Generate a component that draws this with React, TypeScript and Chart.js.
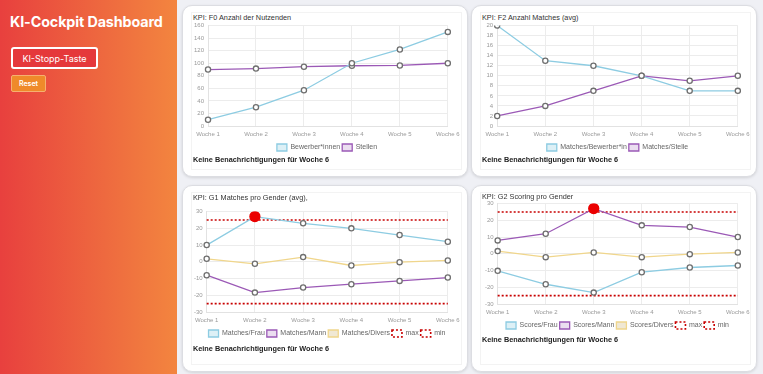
import React, { useEffect, useRef } from "react";
import { Chart, registerables } from "chart.js";

Chart.register(...registerables);

const weeks = ["Woche 1", "Woche 2", "Woche 3", "Woche 4", "Woche 5", "Woche 6"];

const f0Bewerber = [10, 30, 57, 100, 122, 150];
const f0Stellen = [90, 91.5, 94.5, 96, 96.5, 100];

const f2MatchesBewerber = [20, 13, 12, 10, 7, 7];
const f2MatchesStelle = [2, 4, 7, 10, 9, 10];

const g1Frau = [10, 27, 23, 20, 16, 12];
const g1Mann = [-8, -18.4, -15.4, -13.4, -11.4, -9.4];
const g1Divers = [1.8, -1.2, 2.8, -2.2, -0.2, 0.8];

const g2Frau = [-10.2, -18.2, -23.2, -11, -8.2, -7];
const g2Mann = [8, 12, 27, 17, 16, 10];
const g2Divers = [1.6, -2, 0.8, -2, -0.2, 0.8];

const maxLine = [25, 25, 25, 25, 25, 25];
const minLine = [-25, -25, -25, -25, -25, -25];
const maxLimit = 25;

const BLUE = "rgb(141, 204, 226)";
const BLUE_FILL = "rgba(141, 204, 226, 0.3)";
const PURPLE = "rgb(155, 89, 182)";
const PURPLE_FILL = "rgba(155, 89, 182, 0.2)";
const YELLOW = "rgb(240, 214, 140)";
const YELLOW_FILL = "rgba(225, 210, 170, 0.5)";
const RED = "rgb(200, 0, 0)";

const FONT = "'Liberation Sans', Arial, sans-serif";

function series(label: string, data: number[], color: string, fill: string, flag = false) {
  const hot = (c: any) => flag && c.raw > maxLimit;
  return {
    label,
    data,
    borderColor: color,
    backgroundColor: fill,
    borderWidth: 1.3,
    tension: 0,
    pointRadius: (c: any) => (hot(c) ? 5 : 2.6),
    pointHoverRadius: (c: any) => (hot(c) ? 5 : 2.6),
    pointBackgroundColor: (c: any) => (hot(c) ? "rgb(235, 0, 0)" : "#ffffff"),
    pointBorderColor: (c: any) => (hot(c) ? "rgb(235, 0, 0)" : "#6f6f6f"),
    pointBorderWidth: 1.3,
  };
}

function limit(label: string, data: number[]) {
  return {
    label,
    data,
    borderColor: RED,
    backgroundColor: "rgba(255,255,255,0)",
    borderWidth: 1.6,
    borderDash: [2, 2],
    pointRadius: 0,
    tension: 0,
  };
}

function makeOptions(min: number, max: number, step: number) {
  return {
    animation: false as const,
    responsive: false,
    maintainAspectRatio: false,
    layout: { padding: { top: 0, bottom: 0, left: 0, right: 0 } },
    plugins: {
      legend: {
        position: "bottom" as const,
        labels: {
          boxWidth: 10,
          boxHeight: 7,
          padding: 2,
          color: "#666",
          font: { family: FONT, size: 7 },
        },
      },
      tooltip: { enabled: false },
    },
    scales: {
      x: {
        grid: { color: "#ececec", drawTicks: false, tickLength: 0 },
        border: { color: "#e2e2e2" },
        ticks: { color: "#999", padding: 4.4, font: { family: FONT, size: 6 }, maxRotation: 0 },
      },
      y: {
        min,
        max,
        grid: { color: "#ececec", drawTicks: false, tickLength: 0 },
        border: { color: "#e2e2e2" },
        ticks: { color: "#999", padding: 4, stepSize: step, autoSkip: false, font: { family: FONT, size: 6 } },
      },
    },
  };
}

function LineCanvas({ datasets, min, max, step, width, height }: any) {
  const ref = useRef<HTMLCanvasElement | null>(null);
  useEffect(() => {
    if (!ref.current) return;
    const chart = new Chart(ref.current, {
      type: "line",
      data: { labels: weeks, datasets },
      options: makeOptions(min, max, step) as any,
    });
    return () => chart.destroy();
  }, []);
  return <canvas ref={ref} width={width} height={height} style={{ width, height, display: "block" }} />;
}

function Card({ left, top, width, height, title, titleY, canvasLeft, canvasTop, canvasW, canvasH, noteY, children }: any) {
  return (
    <div
      style={{
        position: "absolute",
        left,
        top,
        width,
        height,
        boxSizing: "border-box",
        background: "#fff",
        borderRadius: 10,
        border: "1px solid #dcdde2",
        boxShadow: "0 1px 3px rgba(0,0,0,0.12)",
      }}
    >
      <div
        style={{
          position: "absolute",
          left: 8,
          right: 5,
          top: 6,
          bottom: 6,
          border: "1px solid #f3f3f3",
        }}
      />
      <div
        style={{
          position: "absolute",
          left: 10,
          top: titleY - 5,
          fontFamily: FONT,
          fontSize: 7.3,
          color: "#333",
          lineHeight: "10px",
          whiteSpace: "nowrap",
        }}
      >
        {title}
      </div>
      <div style={{ position: "absolute", left: canvasLeft, top: canvasTop, width: canvasW, height: canvasH }}>
        {children}
      </div>
      <div
        style={{
          position: "absolute",
          left: 10,
          top: noteY - 5,
          fontFamily: FONT,
          fontSize: 7.3,
          fontWeight: "bold",
          color: "#222",
          lineHeight: "10px",
          whiteSpace: "nowrap",
        }}
      >
        Keine Benachrichtigungen für Woche 6
      </div>
    </div>
  );
}

export default function App() {
  useEffect(() => {
    document.body.style.margin = "0";
  }, []);
  const ch = 143;
  return (
    <div
      style={{
        position: "fixed",
        left: 0,
        top: 0,
        width: 763,
        height: 374,
        overflow: "hidden",
        background: "#eff0f5",
      }}
    >
      <div
        style={{
          position: "absolute",
          left: 0,
          top: 0,
          width: 177,
          height: 374,
          background: "linear-gradient(90deg, #e8403e 0%, #ee6a3f 60%, #f3853f 100%)",
        }}
      >
        <div
          style={{
            position: "absolute",
            left: 10,
            top: 13,
            fontFamily: "Inter, 'Open Sans', sans-serif",
            fontWeight: 700,
            fontSize: 14.3,
            color: "#fff",
            whiteSpace: "nowrap",
            letterSpacing: -0.1,
          }}
        >
          KI-Cockpit Dashboard
        </div>
        <div
          style={{
            position: "absolute",
            left: 11,
            top: 47,
            width: 87,
            height: 22,
            boxSizing: "border-box",
            border: "2px solid #fff",
            borderRadius: 3,
            background: "#e5383b",
            color: "#fff",
            fontFamily: "Inter, 'Open Sans', sans-serif",
            fontSize: 9,
            display: "flex",
            alignItems: "center",
            justifyContent: "center",
          }}
        >
          KI-Stopp-Taste
        </div>
        <div
          style={{
            position: "absolute",
            left: 11,
            top: 75,
            width: 35,
            height: 17,
            boxSizing: "border-box",
            border: "1px solid #f6b070",
            borderRadius: 2,
            background: "#ef8a2a",
            color: "#fff",
            fontFamily: "Inter, 'Open Sans', sans-serif",
            fontWeight: 600,
            fontSize: 7,
            display: "flex",
            alignItems: "center",
            justifyContent: "center",
          }}
        >
          Reset
        </div>
      </div>

      <Card left={182} top={5} width={286} height={172} title="KPI: F0 Anzahl der Nutzenden" titleY={12}
        canvasLeft={7} canvasTop={12} canvasW={274} canvasH={ch} noteY={154}>
        <LineCanvas width={274} height={ch} min={0} max={160} step={20}
          datasets={[series("Bewerber*innen", f0Bewerber, BLUE, BLUE_FILL), series("Stellen", f0Stellen, PURPLE, PURPLE_FILL)]} />
      </Card>

      <Card left={471} top={5} width={286} height={172} title="KPI: F2 Anzahl Matches (avg)" titleY={12}
        canvasLeft={9} canvasTop={12} canvasW={273} canvasH={ch} noteY={154}>
        <LineCanvas width={273} height={ch} min={0} max={20} step={2}
          datasets={[series("Matches/Bewerber*in", f2MatchesBewerber, BLUE, BLUE_FILL), series("Matches/Stelle", f2MatchesStelle, PURPLE, PURPLE_FILL)]} />
      </Card>

      <Card left={182} top={185} width={286} height={187} title="KPI: G1 Matches pro Gender (avg)," titleY={12}
        canvasLeft={7} canvasTop={18} canvasW={274} canvasH={ch} noteY={163}>
        <LineCanvas width={274} height={ch} min={-30} max={30} step={10}
          datasets={[
            series("Matches/Frau", g1Frau, BLUE, BLUE_FILL, true),
            series("Matches/Mann", g1Mann, PURPLE, PURPLE_FILL, true),
            series("Matches/Divers", g1Divers, YELLOW, YELLOW_FILL, true),
            limit("max", maxLine),
            limit("min", minLine),
          ]} />
      </Card>

      <Card left={471} top={185} width={286} height={187} title="KPI: G2 Scoring pro Gender" titleY={11}
        canvasLeft={9} canvasTop={10} canvasW={273} canvasH={ch} noteY={154}>
        <LineCanvas width={273} height={ch} min={-30} max={30} step={10}
          datasets={[
            series("Scores/Frau", g2Frau, BLUE, BLUE_FILL, true),
            series("Scores/Mann", g2Mann, PURPLE, PURPLE_FILL, true),
            series("Scores/Divers", g2Divers, YELLOW, YELLOW_FILL, true),
            limit("max", maxLine),
            limit("min", minLine),
          ]} />
      </Card>
    </div>
  );
}
